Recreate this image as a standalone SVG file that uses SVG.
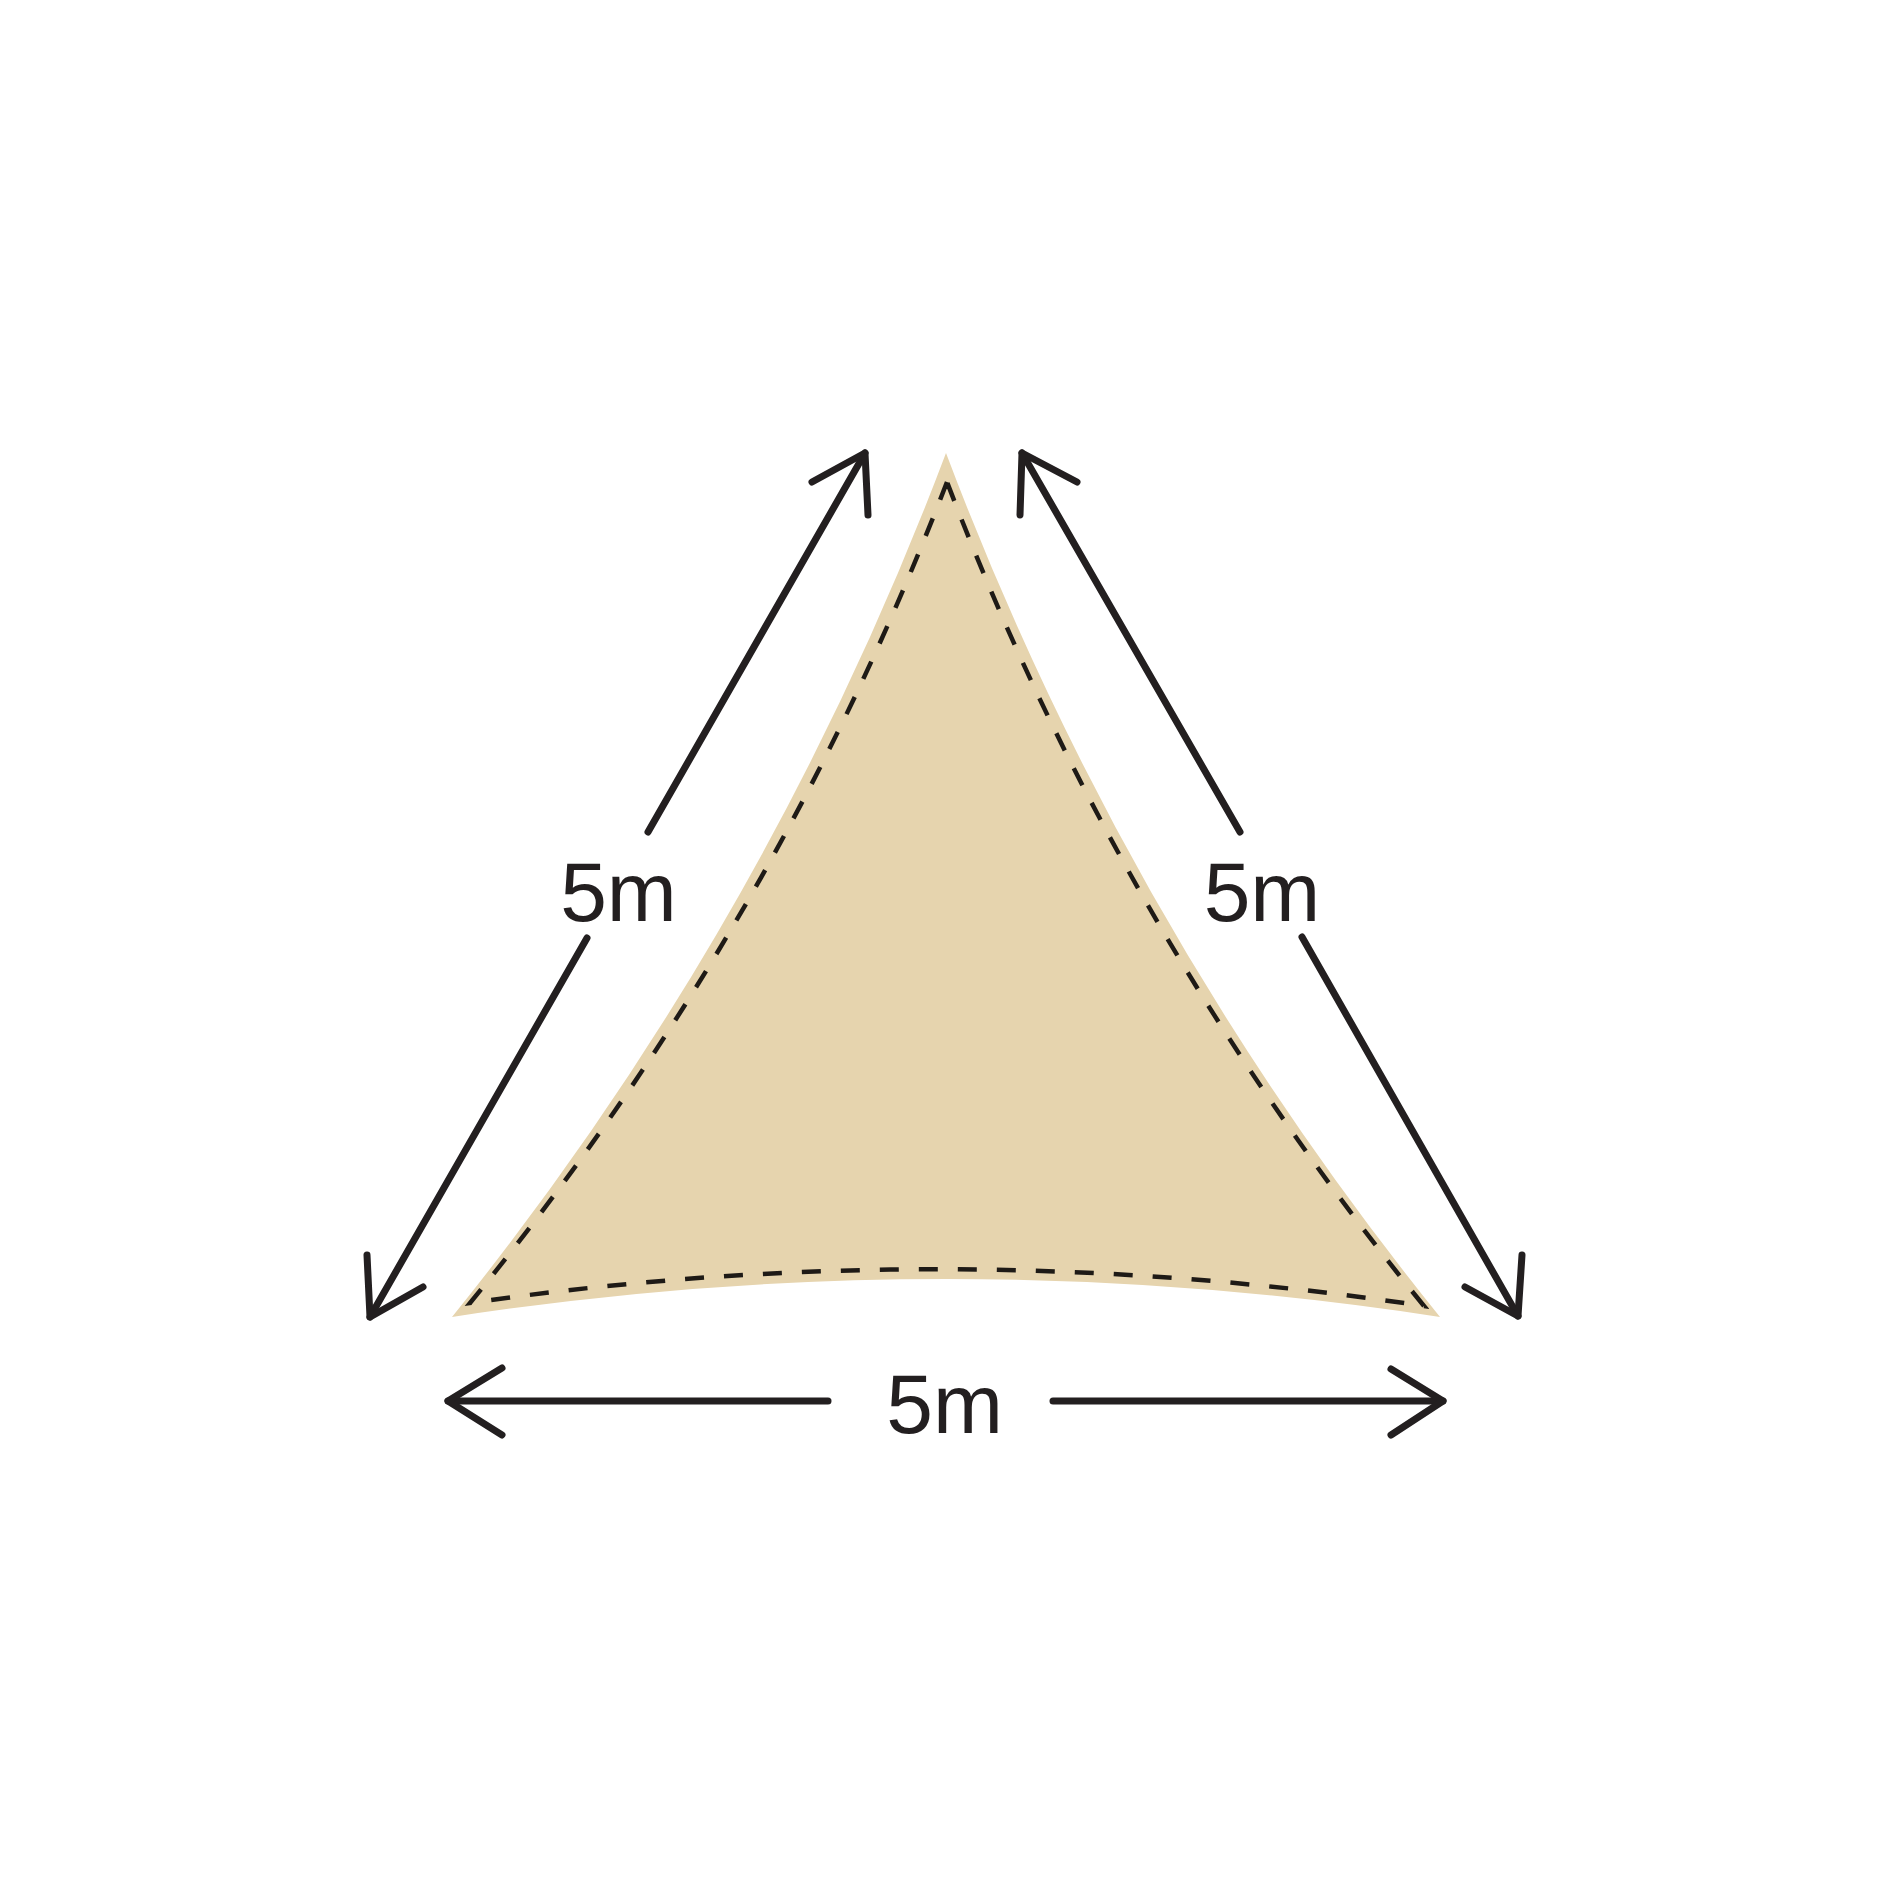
<svg xmlns="http://www.w3.org/2000/svg" width="1900" height="1900" viewBox="0 0 1900 1900">
<style>
.arrow{fill:none;stroke:#231f20;stroke-width:7;stroke-linecap:round;stroke-linejoin:round}
.seam{fill:none;stroke:#1e1a16;stroke-width:4.5;stroke-dasharray:19 20}
.lbl{font-family:"Liberation Sans",Arial,sans-serif;font-size:84px;fill:#231f20;text-anchor:middle}
</style>
<rect width="1900" height="1900" fill="#ffffff"/>
<g id="sail">
<path d="M946,453 Q768,925 452,1317 Q946,1241 1440,1317 Q1124,925 946,453 Z" fill="#e6d4ae"/>
<path class="seam" d="M947,482 Q775,930 470,1303 Q946,1234 1424,1306 Q1118,930 947,482 Z"/>
</g>
<g id="connectors">
<g id="dim-left">
<line class="arrow" x1="865" y1="453" x2="648" y2="832"/>
<line class="arrow" x1="587" y1="938" x2="370" y2="1317"/>
<polyline class="arrow" points="812,482 865,453 868,515"/>
<polyline class="arrow" points="367,1255 370,1317 423,1287"/>
</g>
<g id="dim-right">
<line class="arrow" x1="1022" y1="453" x2="1240" y2="832"/>
<line class="arrow" x1="1302" y1="937" x2="1518" y2="1316"/>
<polyline class="arrow" points="1077,482 1022,453 1020,515"/>
<polyline class="arrow" points="1522,1255 1518,1316 1465,1287"/>
</g>
<g id="dim-bottom">
<line class="arrow" x1="448" y1="1401" x2="828" y2="1401"/>
<line class="arrow" x1="1053" y1="1401" x2="1443" y2="1401"/>
<polyline class="arrow" points="502,1368 448,1401 502,1435"/>
<polyline class="arrow" points="1391,1369 1443,1401 1391,1435"/>
</g>
</g>
<g id="label-left"><text class="lbl" x="618.5" y="921">5m</text></g>
<g id="label-right"><text class="lbl" x="1262" y="921">5m</text></g>
<g id="label-bottom"><text class="lbl" x="944.7" y="1433">5m</text></g>
</svg>
